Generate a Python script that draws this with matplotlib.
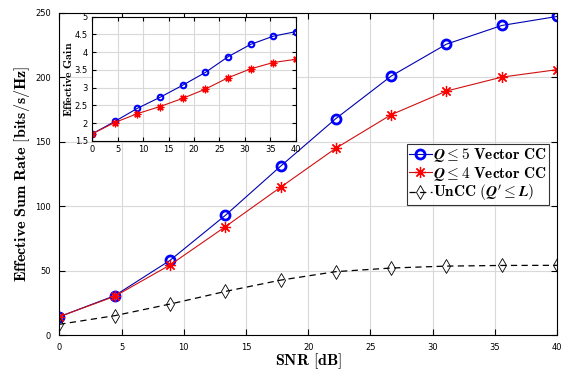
import matplotlib
matplotlib.use("Agg")
import matplotlib.pyplot as plt
import numpy as np

plt.rcParams['mathtext.fontset'] = 'cm'
plt.rcParams['font.family'] = 'DejaVu Sans'

# data
snr = np.linspace(0, 40, 10)
rate_q5 = [14.2, 30.5, 57.9, 92.8, 131.0, 168.0, 201.0, 225.8, 240.3, 247.3]
rate_q4 = [14.2, 30.0, 54.3, 84.0, 114.7, 145.0, 171.0, 189.4, 200.2, 206.0]
rate_uncc = [8.3, 15.0, 24.0, 33.8, 42.6, 49.2, 52.0, 53.5, 54.0, 54.1]
gain_q5 = [1.7, 2.05, 2.42, 2.73, 3.07, 3.43, 3.87, 4.22, 4.45, 4.58]
gain_q4 = [1.7, 2.02, 2.27, 2.47, 2.7, 2.96, 3.28, 3.53, 3.71, 3.8]

labels = [r'$\mathbfit{Q} \leq \mathbf{5\ Vector\ CC}$',
          r'$\mathbfit{Q} \leq \mathbf{4\ Vector\ CC}$',
          r'$\mathbf{UnCC\ (}\mathbfit{Q}^{\prime} \leq \mathbfit{L}\mathbf{)}$']

asterisk = (8, 2, 0)

fig = plt.figure(figsize=(5.87, 3.71), dpi=100)
ax = fig.add_axes([0.101, 0.097, 0.848, 0.868])

ax.plot(snr, rate_q5, color='#0000b0', lw=0.8, marker='o', ms=6.5, mew=2,
        mec='blue', mfc='none', label=labels[0])
ax.plot(snr, rate_q4, color='#d01010', lw=0.8, marker=asterisk, ms=8, mew=0.9,
        mec='red', label=labels[1])
ax.plot(snr, rate_uncc, color='black', lw=0.9, ls='--', dashes=(5, 3.5),
        marker='d', ms=7.5, mew=0.6, mfc='none', label=labels[2])

ax.set_xlim(0, 40)
ax.set_ylim(0, 250)
ax.set_xticks(np.arange(0, 41, 5))
ax.set_yticks(np.arange(0, 251, 50))
ax.grid(True, color='#d9d9d9', lw=0.8)
ax.set_axisbelow(True)
ax.tick_params(direction='in', top=True, right=True, labelsize=6, length=4, pad=6)
ax.set_xlabel(r'$\mathbf{SNR\ [dB]}$', fontsize=11.5, labelpad=-1)
ax.set_ylabel(r'$\mathbf{Effective\ Sum\ Rate\ [bits/s/Hz]}$', fontsize=11.5,
              labelpad=2)

leg = ax.legend(loc='upper right', bbox_to_anchor=(0.984, 0.593), fontsize=11,
                frameon=True, fancybox=False, edgecolor='black', handlelength=1.5,
                handletextpad=0.1, borderpad=0.15, labelspacing=0.02,
                borderaxespad=0)
leg.get_frame().set_linewidth(0.8)

# inset with effective gain
ins = fig.add_axes([0.157, 0.620, 0.347, 0.335])
ins.plot(snr, gain_q5, color='#0000b0', lw=0.8, marker='o', ms=4, mew=1.5,
         mec='blue', mfc='none')
ins.plot(snr, gain_q4, color='#d01010', lw=0.8, marker=asterisk, ms=5.5, mew=0.9,
         mec='red')
ins.set_xlim(0, 40)
ins.set_ylim(1.5, 5)
ins.set_xticks(np.arange(0, 41, 5))
ins.set_yticks(np.arange(1.5, 5.01, 0.5))
ins.set_yticklabels(['1.5', '2', '2.5', '3', '3.5', '4', '4.5', '5'])
ins.grid(True, color='#d9d9d9', lw=0.8)
ins.set_axisbelow(True)
ins.tick_params(direction='in', top=True, right=True, labelsize=6, length=3, pad=3)
ins.set_ylabel(r'$\mathbf{Effective\ Gain}$', fontsize=8.5, labelpad=0)

fig.savefig('out.png', dpi=100)
